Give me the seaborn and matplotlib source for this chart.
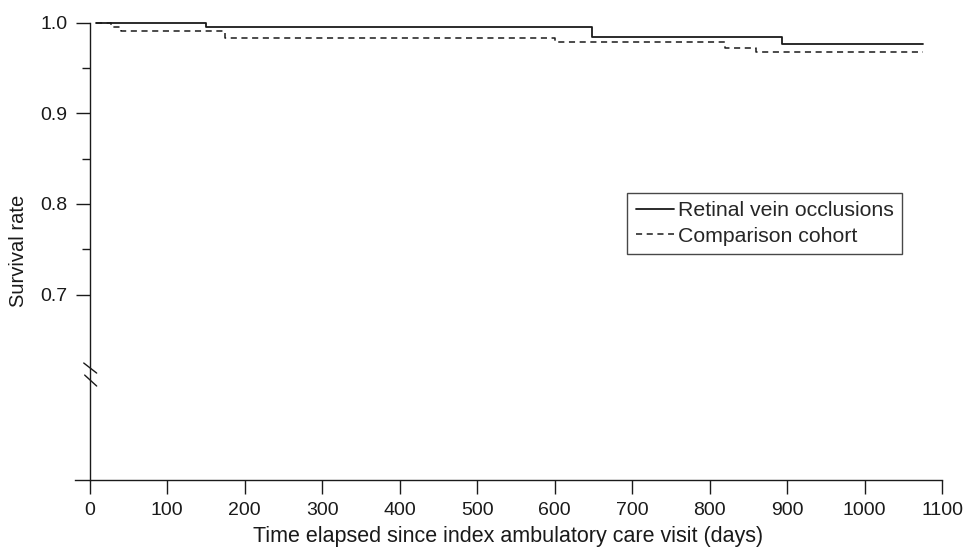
import matplotlib
matplotlib.use("Agg")
import matplotlib.pyplot as plt
import seaborn as sns
import pandas as pd

# Data
rvo_days = [8, 150, 648, 893, 1075]
rvo_surv = [1.0, 0.995, 0.984, 0.977, 0.977]
cmp_days = [8, 28, 40, 175, 600, 820, 860, 1075]
cmp_surv = [1.0, 0.995, 0.991, 0.983, 0.979, 0.972, 0.968, 0.968]
series_labels = ["Retinal vein occlusions", "Comparison cohort"]
x_ticks = [0, 100, 200, 300, 400, 500, 600, 700, 800, 900, 1000, 1100]
y_ticks = [0.7, 0.8, 0.9, 1.0]
y_minor = [0.75, 0.85, 0.95]

sns.set_style("white")
plt.rcParams["font.family"] = ["Liberation Sans", "DejaVu Sans"]
plt.rcParams["font.size"] = 14

df_rvo = pd.DataFrame({"days": rvo_days, "surv": rvo_surv})
df_cmp = pd.DataFrame({"days": cmp_days, "surv": cmp_surv})

fig = plt.figure(figsize=(9.65, 5.47), dpi=100)
ax = fig.add_axes([0.0777, 0.1225, 0.8985, 0.836])

col = "#1a1a1a"
sns.lineplot(data=df_rvo, x="days", y="surv", ax=ax, estimator=None,
             drawstyle="steps-post", color=col, linewidth=1.3,
             label=series_labels[0], clip_on=False)
sns.lineplot(data=df_cmp, x="days", y="surv", ax=ax, estimator=None,
             drawstyle="steps-post", color=col, linewidth=1.1,
             linestyle=(0, (4, 3)), label=series_labels[1], clip_on=False)

ax.set_xlim(-19, 1100)
ax.set_ylim(0.4953, 1.0)

ax.spines["top"].set_visible(False)
ax.spines["right"].set_visible(False)
ax.spines["left"].set_position(("data", 0))
for s in ["left", "bottom"]:
    ax.spines[s].set_color(col)
    ax.spines[s].set_linewidth(1.0)

ax.set_xticks(x_ticks)
ax.set_xticklabels([str(t) for t in x_ticks])
ax.set_yticks(y_ticks)
ax.set_yticklabels([f"{t:.1f}" for t in y_ticks])
ax.set_yticks(y_minor, minor=True)
ax.tick_params(axis="both", which="major", direction="out", length=10,
               width=1.0, color=col, labelsize=14, labelcolor=col, pad=6,
               bottom=True, left=True)
ax.tick_params(axis="y", which="minor", direction="out", length=5.5,
               width=1.0, color=col, left=True)

# axis break marks on y spine
ax.plot([-7.7, 9], [0.6244, 0.6133], color=col, lw=1.0, clip_on=False)
ax.plot([-6.5, 9], [0.6111, 0.5990], color=col, lw=1.0, clip_on=False)

ax.set_xlabel("Time elapsed since index ambulatory care visit (days)",
              fontsize=15.5, color=col, labelpad=5)
ax.set_ylabel("Survival rate", fontsize=14.5, color=col, labelpad=9)

leg = ax.legend(loc="upper left", bbox_to_anchor=(627 / 965, 1 - 193 / 547),
                bbox_transform=fig.transFigure, frameon=True, fancybox=False,
                edgecolor=col, fontsize=15.3, handlelength=1.8,
                handletextpad=0.2, borderpad=0.4, labelspacing=0.3,
                borderaxespad=0)
leg.get_frame().set_linewidth(1.0)

fig.savefig("out.png", dpi=100)
